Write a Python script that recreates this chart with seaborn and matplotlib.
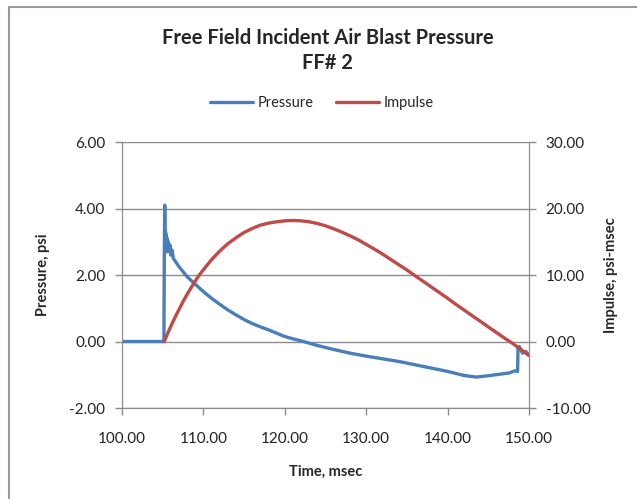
import numpy as np
import pandas as pd
import matplotlib.pyplot as plt
import seaborn as sb

# Pressure trace (psi)
pressure_time = [100.0, 105.15, 105.2, 105.25, 105.3, 105.35, 105.4, 105.45, 105.5, 105.55,
                 105.6, 105.7, 105.8, 105.9, 106.0, 106.15, 106.3,
                 107.0, 108.0, 109.0, 110.0, 111.0, 112.0, 113.0, 114.0, 115.0,
                 116.0, 117.0, 118.0, 119.0, 120.0, 121.0, 122.0, 123.0, 124.0, 126.0,
                 128.0, 130.0, 132.0, 134.0, 136.0, 138.0, 140.0, 142.0, 143.5, 145.0,
                 146.5, 147.5, 148.3, 148.6, 148.65, 148.8, 149.2, 149.6, 150.0]
pressure_psi = [0.0, 0.0, 2.7, 4.1, 2.8, 3.3, 2.7, 3.2, 2.8, 3.1,
                2.7, 3.0, 2.75, 2.9, 2.6, 2.75, 2.5,
                2.25, 1.95, 1.72, 1.5, 1.3, 1.12, 0.95, 0.8, 0.66,
                0.54, 0.44, 0.35, 0.25, 0.15, 0.08, 0.02, -0.05, -0.12, -0.24,
                -0.35, -0.44, -0.52, -0.6, -0.7, -0.8, -0.9, -1.02, -1.07, -1.03,
                -0.98, -0.95, -0.88, -0.9, -0.2, -0.15, -0.35, -0.3, -0.42]

# Impulse (psi-msec)
impulse_time = [105.2, 105.6, 106.0, 106.5, 107.0, 107.5, 108.0, 108.5, 109.0, 109.5,
                110.0, 111.0, 112.0, 113.0, 114.0, 115.0, 116.0, 117.0, 118.0, 119.0,
                120.0, 121.0, 122.0, 123.0, 124.0, 125.0, 126.0, 127.0, 128.0, 129.0,
                130.0, 131.0, 132.0, 133.0, 134.0, 135.0, 136.0, 137.0, 138.0, 139.0,
                140.0, 141.0, 142.0, 143.0, 144.0, 145.0, 146.0, 147.0, 148.0, 149.0,
                150.0]
impulse_val = [0.0, 1.2, 2.3, 3.6, 4.8, 6.0, 7.1, 8.1, 9.1, 10.0,
               10.8, 12.3, 13.6, 14.7, 15.6, 16.4, 17.0, 17.5, 17.8, 18.0,
               18.15, 18.2, 18.15, 18.0, 17.75, 17.4, 16.95, 16.45, 15.9, 15.3,
               14.6, 13.9, 13.15, 12.35, 11.55, 10.75, 9.9, 9.05, 8.2, 7.35,
               6.5, 5.6, 4.75, 3.9, 3.05, 2.2, 1.35, 0.5, -0.3, -1.2,
               -2.1]

x_ticks = [100, 110, 120, 130, 140, 150]
p_ticks = [-2, 0, 2, 4, 6]
i_ticks = [-10, 0, 10, 20, 30]

blue = '#4A7EBB'
red = '#BE4B48'

sb.set_style('white')
plt.rcParams['font.family'] = ['Lato', 'DejaVu Sans']

fig = plt.figure(figsize=(6.37, 4.99), dpi=100)
ax = fig.add_axes([122 / 637, 1 - 408 / 499, (529 - 122) / 637, (408 - 142) / 499])
ax2 = ax.twinx()

df_p = pd.DataFrame({'t': pressure_time, 'p': pressure_psi})
df_i = pd.DataFrame({'t': impulse_time, 'i': impulse_val})

sb.lineplot(data=df_p, x='t', y='p', ax=ax, color=blue, linewidth=2.4, sort=False,
            estimator=None, label='Pressure', legend=False)
sb.lineplot(data=df_i, x='t', y='i', ax=ax2, color=red, linewidth=2.4, sort=False,
            estimator=None, label='Impulse', legend=False)

ax.set_xlim(100, 150)
ax.set_ylim(-2, 6)
ax2.set_ylim(-10, 30)
ax.set_xticks(x_ticks)
ax.set_xticklabels(['%.2f' % v for v in x_ticks])
ax.set_yticks(p_ticks)
ax.set_yticklabels(['%.2f' % v for v in p_ticks])
ax2.set_yticks(i_ticks)
ax2.set_yticklabels(['%.2f' % v for v in i_ticks])

ax.grid(axis='y', color='#8C8C8C', linewidth=1)
ax.set_axisbelow(True)
for a in (ax, ax2):
    for s in a.spines.values():
        s.set_color('#8C8C8C')
    a.spines['top'].set_visible(False)
    a.tick_params(length=5, width=1, color='#8C8C8C', labelsize=11, labelcolor='#222222')
ax.tick_params(axis='y', direction='out', left=True, pad=7)
ax.tick_params(axis='x', direction='out', bottom=True, pad=12)
ax2.tick_params(axis='y', direction='out', right=True, pad=7)

ax.set_xlabel('Time, msec', fontsize=10.5, fontweight='bold', labelpad=14)
ax.set_ylabel('Pressure, psi', fontsize=10.5, fontweight='bold', labelpad=14)
ax2.set_ylabel('Impulse, psi-msec', fontsize=10.5, fontweight='bold', labelpad=10)

fig.text(0.514, 1 - 38 / 499, 'Free Field Incident Air Blast Pressure', ha='center', va='center',
         fontsize=14.5, fontweight='bold')
fig.text(0.514, 1 - 63 / 499, 'FF# 2', ha='center', va='center', fontsize=14.5, fontweight='bold')

h1, l1 = ax.get_legend_handles_labels()
h2, l2 = ax2.get_legend_handles_labels()
fig.legend(h1 + h2, l1 + l2, loc='center', bbox_to_anchor=(0.505, 1 - 103 / 499), ncol=2,
           frameon=False, fontsize=10.5, handlelength=3, columnspacing=1.5, handletextpad=0.3)

# outer chart frame (top and left edges)
fig.add_artist(plt.Line2D([9 / 637, 9 / 637], [0, 1 - 7 / 499], transform=fig.transFigure,
                          color='#999999', linewidth=1.5))
fig.add_artist(plt.Line2D([9 / 637, 1], [1 - 7 / 499, 1 - 7 / 499], transform=fig.transFigure,
                          color='#999999', linewidth=1.5))

fig.savefig('out.png', dpi=100)
